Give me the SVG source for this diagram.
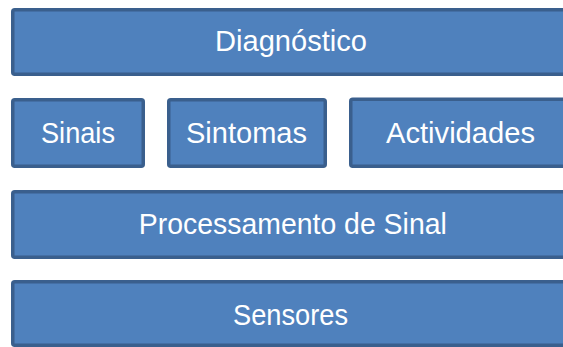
<svg xmlns="http://www.w3.org/2000/svg" width="563" height="347" viewBox="0 0 563 347">
<style>
  .box { fill: #4f81bd; stroke: #3a5f8d; stroke-width: 3.5; }
  .lbl { font-family: "Liberation Sans", Arial, sans-serif; font-size: 29px; fill: #ffffff; text-anchor: middle; }
</style>
<rect x="0" y="0" width="563" height="347" fill="#ffffff"/>
<g id="diagnostico">
  <rect class="box" x="12.75" y="9.75" width="556.5" height="64.5" rx="2"/>
  <text class="lbl" x="291" y="51" textLength="152" lengthAdjust="spacingAndGlyphs">Diagnóstico</text>
</g>
<g id="sinais">
  <rect class="box" x="12.75" y="99.75" width="130.5" height="66.5" rx="2"/>
  <text class="lbl" x="78" y="143" textLength="74" lengthAdjust="spacingAndGlyphs">Sinais</text>
</g>
<g id="sintomas">
  <rect class="box" x="168.75" y="99.75" width="156.5" height="66.5" rx="2"/>
  <text class="lbl" x="246.5" y="143" textLength="121" lengthAdjust="spacingAndGlyphs">Sintomas</text>
</g>
<g id="actividades">
  <rect class="box" x="350.75" y="99.25" width="219.5" height="67" rx="2"/>
  <text class="lbl" x="460.5" y="143" textLength="149" lengthAdjust="spacingAndGlyphs">Actividades</text>
</g>
<g id="processamento">
  <rect class="box" x="12.75" y="191.75" width="556.5" height="65.5" rx="2"/>
  <text class="lbl" x="292.8" y="234" textLength="308" lengthAdjust="spacingAndGlyphs">Processamento de Sinal</text>
</g>
<g id="sensores">
  <rect class="box" x="12.75" y="281.75" width="556.5" height="63.5" rx="2"/>
  <text class="lbl" x="290.5" y="325" textLength="115" lengthAdjust="spacingAndGlyphs">Sensores</text>
</g>
<g id="connectors"></g>
</svg>
